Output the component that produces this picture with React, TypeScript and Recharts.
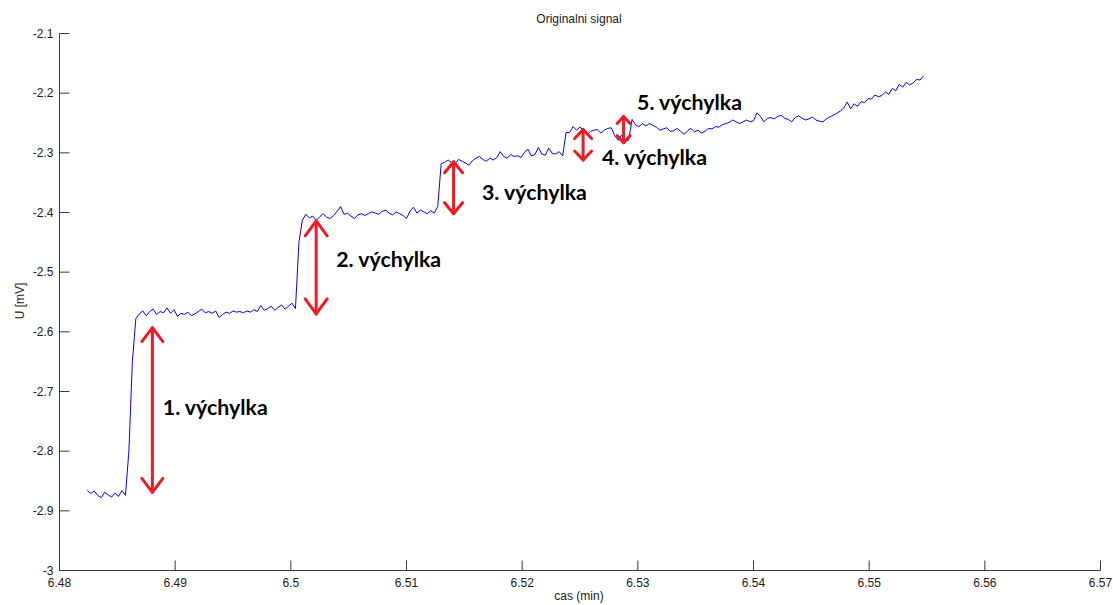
import React from 'react';
import { LineChart, Line, XAxis, YAxis, ReferenceLine, ReferenceDot } from 'recharts';

// Sampling of the recorded signal (time in minutes)
const SAMPLE_START = 6.4824;
const SAMPLE_STEP = 0.0003;

// Recorded voltage U [mV], one value per sample
const voltage = [
  -2.866, -2.871, -2.867, -2.874, -2.878, -2.869, -2.873, -2.877, -2.870, -2.876,
  -2.866, -2.874, -2.800, -2.650, -2.578, -2.570, -2.565, -2.573, -2.566, -2.562,
  -2.571, -2.566, -2.568, -2.560, -2.569, -2.563, -2.574, -2.569, -2.571, -2.567,
  -2.573, -2.570, -2.566, -2.562, -2.568, -2.566, -2.569, -2.565, -2.576, -2.571,
  -2.567, -2.569, -2.565, -2.567, -2.566, -2.568, -2.565, -2.567, -2.563, -2.566,
  -2.556, -2.564, -2.561, -2.557, -2.564, -2.559, -2.555, -2.562, -2.557, -2.552,
  -2.561, -2.450, -2.413, -2.403, -2.409, -2.406, -2.413, -2.407, -2.402, -2.408,
  -2.410, -2.405, -2.398, -2.390, -2.403, -2.401, -2.406, -2.410, -2.404, -2.402,
  -2.405, -2.402, -2.399, -2.401, -2.403, -2.398, -2.396, -2.401, -2.404, -2.399,
  -2.402, -2.405, -2.410, -2.398, -2.391, -2.401, -2.396, -2.399, -2.402, -2.397,
  -2.401, -2.390, -2.318, -2.316, -2.312, -2.316, -2.318, -2.311, -2.314, -2.317,
  -2.321, -2.313, -2.309, -2.306, -2.311, -2.314, -2.309, -2.312, -2.308, -2.298,
  -2.306, -2.309, -2.303, -2.306, -2.305, -2.308, -2.299, -2.294, -2.305, -2.303,
  -2.291, -2.302, -2.304, -2.292, -2.301, -2.302, -2.298, -2.305, -2.266, -2.266,
  -2.256, -2.262, -2.257, -2.262, -2.270, -2.264, -2.262, -2.261, -2.267, -2.262,
  -2.259, -2.258, -2.271, -2.279, -2.270, -2.281, -2.279, -2.244, -2.253, -2.256,
  -2.251, -2.255, -2.251, -2.254, -2.257, -2.262, -2.260, -2.258, -2.264, -2.263,
  -2.259, -2.264, -2.269, -2.263, -2.259, -2.265, -2.262, -2.267, -2.264, -2.259,
  -2.260, -2.256, -2.257, -2.253, -2.251, -2.249, -2.245, -2.248, -2.251, -2.248,
  -2.245, -2.248, -2.246, -2.233, -2.239, -2.248, -2.242, -2.241, -2.243, -2.239,
  -2.237, -2.242, -2.244, -2.248, -2.241, -2.238, -2.242, -2.245, -2.243, -2.240,
  -2.245, -2.247, -2.248, -2.243, -2.240, -2.237, -2.234, -2.230, -2.225, -2.215,
  -2.226, -2.218, -2.222, -2.214, -2.216, -2.209, -2.210, -2.203, -2.206, -2.204,
  -2.198, -2.202, -2.192, -2.196, -2.185, -2.190, -2.182, -2.186, -2.183, -2.177,
  -2.178, -2.171,
];

const timeTicks = [6.48, 6.49, 6.5, 6.51, 6.52, 6.53, 6.54, 6.55, 6.56, 6.57];
const timeTickLabels = ['6.48', '6.49', '6.5', '6.51', '6.52', '6.53', '6.54', '6.55', '6.56', '6.57'];
const voltageTicks = [-3, -2.9, -2.8, -2.7, -2.6, -2.5, -2.4, -2.3, -2.2, -2.1];
const voltageTickLabels = ['-3', '-2.9', '-2.8', '-2.7', '-2.6', '-2.5', '-2.4', '-2.3', '-2.2', '-2.1'];

// Deflection markers: time of the arrow and the voltage span it covers
const deflectionTimes = [6.48803, 6.50219, 6.51407, 6.52527, 6.52877];
const deflectionTops = [-2.593, -2.414, -2.315, -2.261, -2.239];
const deflectionBottoms = [-2.869, -2.570, -2.402, -2.312, -2.283];
const deflectionLabels = ['1. výchylka', '2. výchylka', '3. výchylka', '4. výchylka', '5. výchylka'];
const labelTimes = [6.48893, 6.50392, 6.51652, 6.52690, 6.52993];
const labelVoltages = [-2.728, -2.480, -2.368, -2.308, -2.217];

// Arrowhead half-width and length per marker (px)
const headSizes = [
  { w: 10.5, h: 14 },
  { w: 11, h: 15 },
  { w: 9, h: 11 },
  { w: 8.5, h: 9 },
  { w: 6.5, h: 7 },
];

const AXIS = '#3a3a3a';
const TEXT = '#1a1a1a';
const FONT = '"Liberation Sans", Arial, sans-serif';
const RED = '#ED1C24';
const TICK_LEN = 10;

const data = voltage.map((u, i) => ({ t: +(SAMPLE_START + i * SAMPLE_STEP).toFixed(4), u }));

const BottomTick = (props: any) => {
  const { x, y, payload } = props;
  const idx = timeTicks.indexOf(payload.value);
  return (
    <g>
      <line x1={x} x2={x} y1={y} y2={y - TICK_LEN} stroke={AXIS} strokeWidth={1} />
      <text x={x} y={y + 16} textAnchor="middle" fontFamily={FONT} fontSize={12} fill={TEXT}>
        {idx >= 0 ? timeTickLabels[idx] : ''}
      </text>
    </g>
  );
};

const TopTick = (props: any) => {
  const { x, y } = props;
  return <line x1={x} x2={x} y1={y} y2={y + TICK_LEN} stroke={AXIS} strokeWidth={1} />;
};

const LeftTick = (props: any) => {
  const { x, y, payload } = props;
  const idx = voltageTicks.indexOf(payload.value);
  return (
    <g>
      <line x1={x} x2={x + TICK_LEN} y1={y} y2={y} stroke={AXIS} strokeWidth={1} />
      <text x={x - 6} y={y + 4} textAnchor="end" fontFamily={FONT} fontSize={12} fill={TEXT}>
        {idx >= 0 ? voltageTickLabels[idx] : ''}
      </text>
    </g>
  );
};

const RightTick = (props: any) => {
  const { x, y } = props;
  return <line x1={x} x2={x - TICK_LEN} y1={y} y2={y} stroke={AXIS} strokeWidth={1} />;
};

const makeArrow = (head: { w: number; h: number }) => (p: any) => {
  const { x1, y1, x2, y2 } = p;
  const top = Math.min(y1, y2);
  const bottom = Math.max(y1, y2);
  const x = x1;
  return (
    <g stroke={RED} strokeWidth={3} fill="none" strokeLinecap="round" strokeLinejoin="round">
      <line x1={x} x2={x2} y1={top} y2={bottom} />
      <polyline points={`${x - head.w},${top + head.h} ${x},${top} ${x + head.w},${top + head.h}`} />
      <polyline points={`${x - head.w},${bottom - head.h} ${x},${bottom} ${x + head.w},${bottom - head.h}`} />
    </g>
  );
};

const makeLabel = (text: string) => (p: any) => (
  <text
    x={p.cx}
    y={p.cy}
    dy="0.35em"
    fontFamily='Lato, "Open Sans", sans-serif'
    fontWeight={700}
    fontSize={20}
    fill="#000"
    textLength={105}
    lengthAdjust="spacingAndGlyphs"
  >
    {text}
  </text>
);

export default function App() {
  return (
    <div style={{ position: 'absolute', left: 0, top: 0, width: 1113, height: 605, background: '#fff' }}>
      <LineChart
        width={1113}
        height={605}
        data={data}
        margin={{ top: 33.5, right: 12.5, bottom: 0.5, left: 0.5 }}
      >
        <XAxis
          xAxisId="b"
          dataKey="t"
          type="number"
          domain={[6.48, 6.57]}
          ticks={timeTicks}
          interval={0}
          height={34}
          tickSize={0}
          tickMargin={0}
          tickLine={false}
          axisLine={{ stroke: AXIS }}
          tick={<BottomTick />}
          allowDataOverflow
        />
        <XAxis
          xAxisId="t"
          orientation="top"
          type="number"
          domain={[6.48, 6.57]}
          ticks={timeTicks}
          interval={0}
          height={0}
          tickSize={0}
          tickMargin={0}
          tickLine={false}
          axisLine={{ stroke: AXIS }}
          tick={<TopTick />}
          allowDataOverflow
        />
        <YAxis
          yAxisId="l"
          type="number"
          domain={[-3, -2.1]}
          ticks={voltageTicks}
          interval={0}
          width={59}
          tickSize={0}
          tickMargin={0}
          tickLine={false}
          axisLine={{ stroke: AXIS }}
          tick={<LeftTick />}
          allowDataOverflow
        />
        <YAxis
          yAxisId="r"
          orientation="right"
          type="number"
          domain={[-3, -2.1]}
          ticks={voltageTicks}
          interval={0}
          width={0}
          tickSize={0}
          tickMargin={0}
          tickLine={false}
          axisLine={{ stroke: AXIS }}
          tick={<RightTick />}
          allowDataOverflow
        />
        <Line
          xAxisId="b"
          yAxisId="l"
          type="linear"
          dataKey="u"
          stroke="#0000FF"
          strokeWidth={1}
          dot={false}
          activeDot={false}
          isAnimationActive={false}
        />
        {deflectionTimes.map((t, i) => (
          <ReferenceLine
            key={`arrow-${i}`}
            xAxisId="b"
            yAxisId="l"
            segment={[
              { x: t, y: deflectionTops[i] },
              { x: t, y: deflectionBottoms[i] },
            ]}
            shape={makeArrow(headSizes[i])}
          />
        ))}
        {deflectionLabels.map((label, i) => (
          <ReferenceDot
            key={`label-${i}`}
            xAxisId="b"
            yAxisId="l"
            x={labelTimes[i]}
            y={labelVoltages[i]}
            r={0}
            shape={makeLabel(label)}
          />
        ))}
      </LineChart>
      <svg
        width={1113}
        height={605}
        style={{ position: 'absolute', left: 0, top: 0, pointerEvents: 'none' }}
      >
        <text x={579} y={23} textAnchor="middle" fontFamily={FONT} fontSize={12} fill={TEXT}>
          Originalni signal
        </text>
        <text x={579} y={600} textAnchor="middle" fontFamily={FONT} fontSize={12} fill={TEXT}>
          cas (min)
        </text>
        <text
          x={23.5}
          y={301}
          transform="rotate(-90 23.5 301)"
          textAnchor="middle"
          fontFamily={FONT}
          fontSize={12}
          fill={TEXT}
        >
          U [mV]
        </text>
      </svg>
    </div>
  );
}
